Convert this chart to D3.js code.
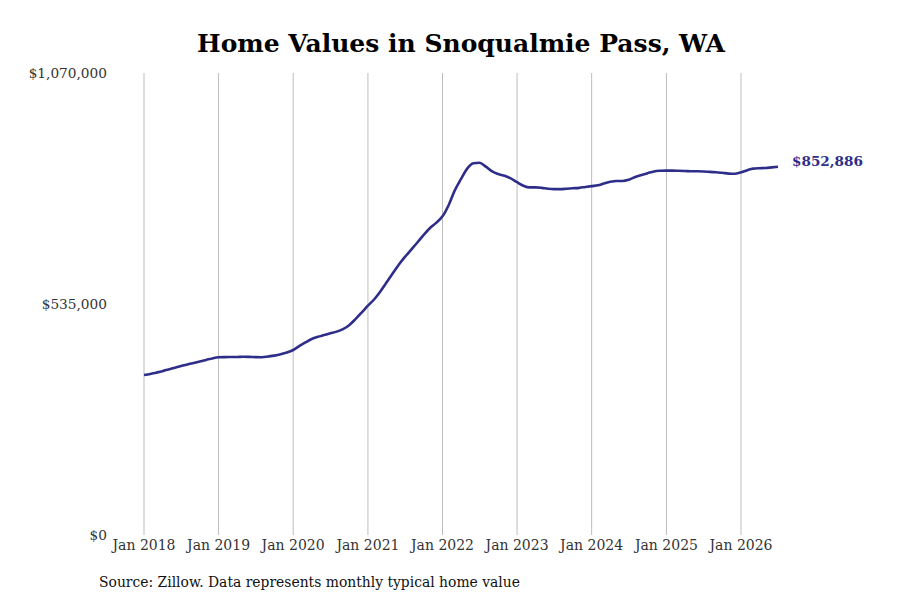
<!DOCTYPE html>
<meta charset="utf-8">
<head>
  <title>Home Values in Snoqualmie Pass, WA</title>
</head>
<style>
body { margin: 0; background: #fff; }
text { font-family: "DejaVu Serif", serif; }
</style>
<body>
<svg width="900" height="600"></svg>
<script src="https://cdnjs.cloudflare.com/ajax/libs/d3/7.8.5/d3.min.js"></script>
<script>
// monthly typical home value, Jan 2018 .. Jul 2026
var startMonth = "2018-01";
var values = [
  370600, 373000, 376000, 379500, 383500, 387500, 391500, 395000, 398500, 402000, 405500, 409000,
  411500, 412000, 412200, 412300, 412800, 412500, 412000, 411800, 413500, 415500, 418500, 422500,
  428500, 438000, 446000, 454000, 459000, 463000, 467000, 471000, 477000, 486000, 500000, 515000,
  531000, 546000, 563000, 584000, 605000, 626000, 644000, 661000, 678000, 695000, 711000, 723000,
  738000, 765000, 797000, 824000, 848000, 861000, 862000, 853000, 842000, 836000, 832000, 826000,
  817000, 809000, 805000, 805000, 804000, 802000, 801000, 801000, 802000, 803000, 804000, 806000,
  808000, 810000, 814000, 818000, 820000, 820000, 823000, 829000, 834000, 838000, 842000, 843500,
  844000, 844000, 843500, 843000, 842500, 842500, 842000, 841000, 840000, 839000, 837000, 836500,
  840000, 845000, 848500, 849500, 850000, 851500, 852886
];
var yTicks = [0, 535000, 1070000];
var xTickYears = [2018, 2019, 2020, 2021, 2022, 2023, 2024, 2025, 2026];

var parse = d3.timeParse("%Y-%m");
var t0 = parse(startMonth);
var data = values.map(function(v, i) { return { date: d3.timeMonth.offset(t0, i), value: v }; });

var svg = d3.select("svg");

var x = d3.scaleTime()
  .domain([new Date(2018, 0, 1), new Date(2026, 0, 1)])
  .range([144, 741]);
var y = d3.scaleLinear()
  .domain([0, 1070000])
  .range([535, 73]);

var fmt = d3.format("$,");

// vertical grid
svg.append("g")
  .selectAll("line")
  .data(xTickYears)
  .enter().append("line")
  .attr("x1", function(d) { return x(new Date(d, 0, 1)); })
  .attr("x2", function(d) { return x(new Date(d, 0, 1)); })
  .attr("y1", y(1070000))
  .attr("y2", y(0))
  .attr("stroke", "#bdbdbd")
  .attr("stroke-width", 1);

// x labels
svg.append("g")
  .selectAll("text")
  .data(xTickYears)
  .enter().append("text")
  .attr("x", function(d) { return x(new Date(d, 0, 1)); })
  .attr("y", 550)
  .attr("text-anchor", "middle")
  .attr("font-size", 14)
  .attr("fill", "#333")
  .text(function(d) { return "Jan " + d; });

// y labels
svg.append("g")
  .selectAll("text")
  .data(yTicks)
  .enter().append("text")
  .attr("x", 107)
  .attr("y", function(d) { return y(d); })
  .attr("dy", "0.35em")
  .attr("text-anchor", "end")
  .attr("font-size", 13.7)
  .attr("fill", "#333")
  .text(function(d) { return fmt(d); });

// line
var line = d3.line()
  .x(function(d) { return x(d.date); })
  .y(function(d) { return y(d.value); })
  .curve(d3.curveMonotoneX);

svg.append("path")
  .datum(data)
  .attr("d", line)
  .attr("fill", "none")
  .attr("stroke", "#2e2e8a")
  .attr("stroke-width", 2.6);

var last = data[data.length - 1];
svg.append("text")
  .attr("x", x(last.date) + 14)
  .attr("y", y(last.value) - 6)
  .attr("dy", "0.35em")
  .attr("font-size", 13.6)
  .attr("font-weight", "bold")
  .attr("fill", "#2e2e8a")
  .text(fmt(last.value));

// title
svg.append("text")
  .attr("x", 461)
  .attr("y", 52)
  .attr("text-anchor", "middle")
  .attr("font-size", 25)
  .attr("font-weight", "bold")
  .attr("fill", "#000")
  .text("Home Values in Snoqualmie Pass, WA");

// source
svg.append("text")
  .attr("x", 99)
  .attr("y", 587)
  .attr("font-size", 13.9)
  .attr("fill", "#111")
  .text("Source: Zillow. Data represents monthly typical home value");
</script>
</body>
</html>
